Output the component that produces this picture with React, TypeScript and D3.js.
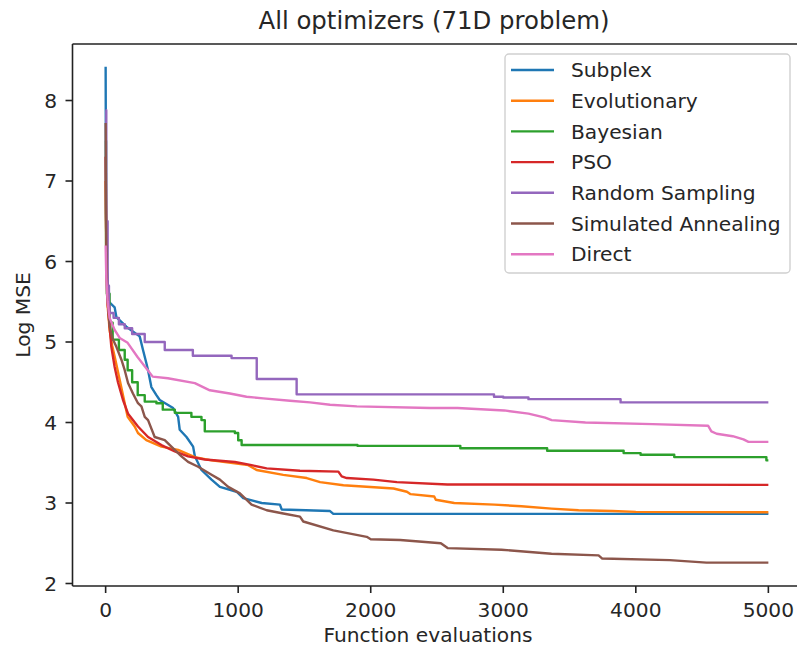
import React from "react";
import * as d3 from "d3";

const seriesNames = ["Subplex", "Evolutionary", "Bayesian", "PSO", "Random Sampling", "Simulated Annealing", "Direct"];
const colors = ["#1f77b4", "#ff7f0e", "#2ca02c", "#d62728", "#9467bd", "#8c564b", "#e377c2"];
// true = staircase (best-so-far with visible jumps), false = smooth decline
const stepped = [false, false, true, false, true, false, false];

const subplex: [number, number][] = [[0,8.42],[3,6.6],[10,5.9],[25,5.5],[68,5.43],[81,5.31],[156,5.19],[257,5.07],[282,4.90],[307,4.74],[320,4.65],[345,4.44],[383,4.34],[408,4.28],[509,4.18],[547,4.07],[559,3.91],[610,3.82],[660,3.70],[673,3.58],[723,3.41],[799,3.29],[862,3.20],[988,3.14],[1038,3.06],[1177,3.0],[1315,2.98],[1328,2.92],[1693,2.90],[1718,2.865],[5000,2.865]];
const evolutionary: [number, number][] = [[0,7.0],[5,6.0],[15,5.45],[30,5.15],[50,4.95],[68,4.82],[106,4.53],[144,4.24],[166,4.07],[219,3.95],[244,3.87],[307,3.78],[421,3.70],[547,3.66],[673,3.57],[799,3.53],[1076,3.47],[1139,3.41],[1340,3.35],[1517,3.31],[1618,3.26],[1794,3.22],[2172,3.18],[2273,3.14],[2301,3.11],[2479,3.08],[2491,3.04],[2630,3.00],[2933,2.98],[3137,2.96],[3364,2.93],[3568,2.91],[3822,2.90],[4000,2.89],[5000,2.885]];
const bayesian: [number, number][] = [[0,7.5],[3,6.2],[10,5.6],[30,5.24],[53,5.03],[100,4.9],[144,4.78],[166,4.65],[200,4.5],[242,4.34],[295,4.26],[383,4.24],[431,4.16],[522,4.12],[647,4.07],[723,4.03],[748,3.89],[975,3.87],[1000,3.78],[1026,3.72],[1900,3.71],[2676,3.68],[3331,3.65],[3908,3.62],[4036,3.60],[4290,3.57],[4985,3.53],[5000,3.53]];
const pso: [number, number][] = [[0,7.3],[5,6.2],[15,5.5],[30,5.19],[43,4.94],[68,4.69],[93,4.50],[131,4.28],[169,4.11],[244,3.95],[320,3.82],[421,3.72],[522,3.64],[622,3.58],[748,3.54],[975,3.51],[1101,3.47],[1215,3.43],[1466,3.40],[1756,3.39],[1781,3.33],[1819,3.31],[2020,3.29],[2197,3.26],[2578,3.23],[5000,3.225]];
const randomSampling: [number, number][] = [[0,7.88],[5,6.5],[15,5.7],[25,5.45],[30,5.36],[60,5.3],[100,5.22],[144,5.17],[200,5.10],[295,5.0],[446,4.90],[658,4.83],[950,4.80],[1140,4.54],[1441,4.35],[2930,4.32],[3000,4.31],[3190,4.29],[3885,4.25],[5000,4.25]];
const simulatedAnnealing: [number, number][] = [[0,7.72],[3,6.5],[10,5.6],[30,5.2],[50,5.05],[81,4.94],[119,4.78],[144,4.65],[169,4.49],[206,4.36],[244,4.24],[270,4.20],[295,4.07],[320,4.03],[370,3.82],[446,3.78],[496,3.70],[572,3.58],[622,3.51],[698,3.45],[799,3.35],[862,3.29],[925,3.20],[1013,3.12],[1101,2.98],[1215,2.91],[1340,2.87],[1466,2.83],[1491,2.77],[1718,2.66],[1970,2.58],[2000,2.55],[2222,2.54],[2529,2.50],[2580,2.44],[2986,2.42],[3364,2.37],[3719,2.35],[3747,2.31],[4256,2.29],[4533,2.26],[5000,2.26]];
const direct: [number, number][] = [[0,6.2],[5,5.8],[15,5.5],[30,5.3],[68,5.15],[106,5.05],[166,4.99],[242,4.81],[318,4.65],[355,4.57],[469,4.55],[673,4.49],[786,4.40],[937,4.36],[1063,4.32],[1189,4.30],[1391,4.27],[1542,4.25],[1693,4.22],[1895,4.20],[2449,4.18],[2655,4.18],[3008,4.15],[3190,4.11],[3316,4.06],[3365,4.03],[3620,4.0],[4127,3.98],[4545,3.96],[4570,3.89],[4610,3.86],[4731,3.83],[4812,3.79],[4850,3.76],[5000,3.76]];

const allSeries = [subplex, evolutionary, bayesian, pso, randomSampling, simulatedAnnealing, direct];

const xTicks = [0, 1000, 2000, 3000, 4000, 5000];
const yTicks = [2, 3, 4, 5, 6, 7, 8];

const W = 797, H = 651;
const left = 72.5, right = 801.5, top = 44, bottom = 586;
const FONT = "DejaVu Sans, sans-serif";

export default function App() {
  const x = d3.scaleLinear().domain([-250, 5250]).range([left, right]);
  const y = d3.scaleLinear().domain([1.969, 8.702]).range([bottom, top]);
  const stepLine = d3.line<[number, number]>().x(d => x(d[0])).y(d => y(d[1])).curve(d3.curveStepAfter);
  const smoothLine = d3.line<[number, number]>().x(d => x(d[0])).y(d => y(d[1])).curve(d3.curveLinear);
  const textColor = "#262626";
  const fs = 20.2;
  return (
    <div style={{ position: "absolute", left: 0, top: 0 }}>
      <svg width={W} height={H} style={{ display: "block", background: "#fff" }} fontFamily={FONT}>
        <defs>
          <clipPath id="plotclip"><rect x={left} y={top} width={right - left} height={bottom - top} /></clipPath>
        </defs>
        <g clipPath="url(#plotclip)">
          {allSeries.map((s, i) => (
            <path key={i} d={(stepped[i] ? stepLine(s) : smoothLine(s)) || ""} fill="none" stroke={colors[i]} strokeWidth={2.4} strokeLinejoin="round" />
          ))}
        </g>
        <line x1={left} x2={left} y1={top} y2={bottom} stroke="#222" strokeWidth={1.6} />
        <line x1={left} x2={right} y1={bottom} y2={bottom} stroke="#222" strokeWidth={1.6} />
        <line x1={left} x2={right} y1={top} y2={top} stroke="#222" strokeWidth={1.6} />
        <line x1={right} x2={right} y1={top} y2={bottom} stroke="#222" strokeWidth={1.6} />
        {xTicks.map(t => (
          <g key={t}>
            <line x1={x(t)} x2={x(t)} y1={bottom} y2={bottom + 7} stroke="#222" strokeWidth={1.6} />
            <text x={x(t)} y={617} textAnchor="middle" fontSize={fs} fill={textColor}>{t}</text>
          </g>
        ))}
        {yTicks.map(t => (
          <g key={t}>
            <line x1={left - 7} x2={left} y1={y(t)} y2={y(t)} stroke="#222" strokeWidth={1.6} />
            <text x={57} y={y(t)} dy="0.36em" textAnchor="end" fontSize={fs} fill={textColor}>{t}</text>
          </g>
        ))}
        <text x={434} y={29} textAnchor="middle" fontSize={24.4} fill={textColor}>All optimizers (71D problem)</text>
        <text x={428} y={642} textAnchor="middle" fontSize={fs} fill={textColor}>Function evaluations</text>
        <text transform={`translate(30,315) rotate(-90)`} textAnchor="middle" fontSize={fs} fill={textColor}>Log MSE</text>
        <rect x={505} y={54} width={285} height={219} rx={4} fill="#fff" fillOpacity={0.8} stroke="#d0d0d0" strokeWidth={1.4} />
        {seriesNames.map((n, i) => {
          const ly = 70 + i * 30.7;
          return (
            <g key={n}>
              <line x1={511} x2={554} y1={ly} y2={ly} stroke={colors[i]} strokeWidth={2.4} />
              <text x={571} y={ly} dy="0.36em" fontSize={fs} fill={textColor}>{n}</text>
            </g>
          );
        })}
      </svg>
    </div>
  );
}
